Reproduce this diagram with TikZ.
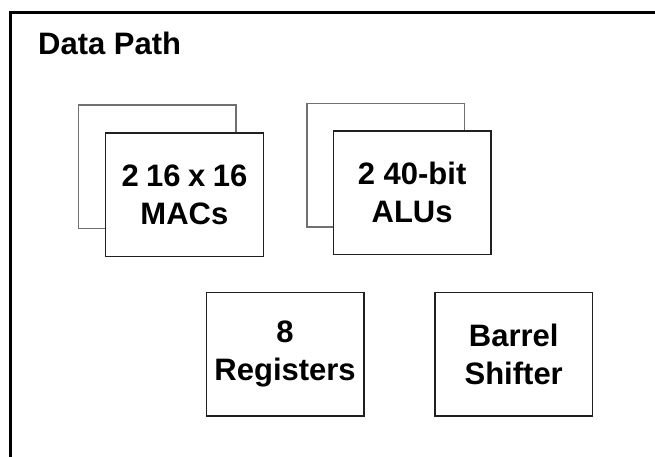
\documentclass[tikz,border=0pt]{standalone}
\usepackage{fontspec}
\setmainfont{Liberation Sans}
\definecolor{backgray}{HTML}{707070}
\definecolor{frontgray}{HTML}{202020}
\begin{document}
\begin{tikzpicture}[x=1pt,y=-1pt,
  unitbox/.style={draw=frontgray, line width=1.3pt, fill=white, minimum width=157.5pt, minimum height=123.5pt, inner sep=0pt, anchor=north west, align=center, font=\bfseries\fontsize{31}{38}\selectfont},
  backbox/.style={unitbox, draw=backgray}]
\useasboundingbox (0,0) rectangle (655,456);
\clip (0,0) rectangle (655,456);
\draw[line width=3pt, black] (10.5,12.2) rectangle (700,500);
\node[anchor=base west, font=\bfseries\fontsize{31}{38}\selectfont, inner sep=0pt] (title) at (38,54.3) {Data Path};
\node[backbox] (macsback) at (77.7,104.3) {};
\node[unitbox] (macs) at (105,132.3) {{\spaceskip=0.24em\relax 2 16 x 16}\\MACs};
\node[backbox] (alusback) at (306.3,102.7) {};
\node[unitbox] (alus) at (332.7,130.3) {2 40-bit\\ALUs};
\node[unitbox] (regs) at (205.7,291.7) {8\\Registers};
\node[unitbox] (barrel) at (434.3,291.7) {Barrel\\Shifter};
\end{tikzpicture}
\end{document}
